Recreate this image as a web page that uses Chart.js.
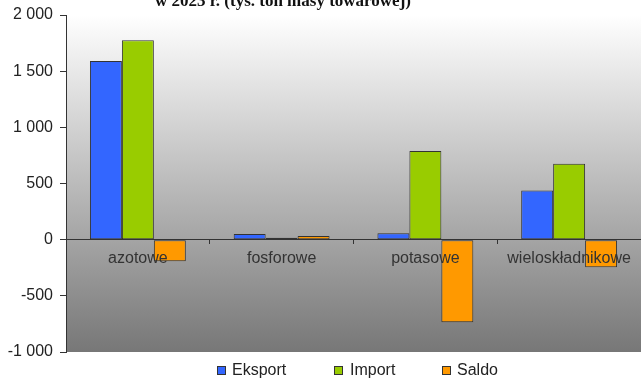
<!DOCTYPE html>
<html>
<head>
<meta charset="utf-8">
<script src="https://cdn.jsdelivr.net/npm/chart.js@4"></script>
<style>
  html, body { margin: 0; padding: 0; background: #fff; }
  #wrap { position: relative; width: 641px; height: 378px; overflow: hidden; }
  canvas { position: absolute; left: 0; top: 0; }
  .lg { position: absolute; font: 16px/16px "Liberation Sans", Arial, sans-serif; color: #222; white-space: nowrap; }
  .bx { position: absolute; width: 7px; height: 7px; border: 1px solid #333; }
</style>
</head>
<body>
<div id="wrap">
  <canvas id="c" width="641" height="378"></canvas>
</div>
<script>
const title = 'w 2023 r. (tys. ton masy towarowej)';
const categories = ['azotowe', 'fosforowe', 'potasowe', 'wieloskładnikowe'];
const seriesNames = ['Eksport', 'Import', 'Saldo'];
const eksport = [1590, 50, 58, 437];
const importValues = [1775, 18, 790, 675];
const saldo = [-193, 32, -735, -245];
const yTicks = [-1000, -500, 0, 500, 1000, 1500, 2000];

const colors = ['#3366FF', '#99CC00', '#FF9900'];
const seriesValues = [eksport, importValues, saldo];

// HTML legend
const wrap = document.getElementById('wrap');
const legendPos = [[217, 232], [334, 350], [442, 457]];
seriesNames.forEach((name, i) => {
  const b = document.createElement('div');
  b.className = 'bx';
  b.style.left = legendPos[i][0] + 'px';
  b.style.top = '366px';
  b.style.background = colors[i];
  wrap.appendChild(b);
  const t = document.createElement('div');
  t.className = 'lg';
  t.style.left = legendPos[i][1] + 'px';
  t.style.top = '362px';
  t.textContent = name;
  wrap.appendChild(t);
});

const bgPlugin = {
  id: 'bg',
  beforeDraw(chart) {
    const { ctx, chartArea: a } = chart;
    const g = ctx.createLinearGradient(0, a.top, 0, a.bottom);
    g.addColorStop(0, '#ffffff');
    g.addColorStop(1, '#777777');
    ctx.save();
    ctx.fillStyle = g;
    ctx.fillRect(a.left, a.top, a.right - a.left, a.bottom - a.top);
    ctx.restore();
  },
  afterDraw(chart) {
    const ctx = chart.ctx;
    ctx.save();
    ctx.font = 'bold 17px "Liberation Serif", "Times New Roman", serif';
    ctx.fillStyle = '#111';
    ctx.textAlign = 'center';
    ctx.textBaseline = 'alphabetic';
    ctx.fillText(title, 283, 5.5);
    ctx.restore();
  }
};

const fmt = v => {
  const s = Math.abs(v).toString().replace(/\B(?=(\d{3})+(?!\d))/g, ' ');
  return (v < 0 ? '-' : '') + s;
};

new Chart(document.getElementById('c'), {
  type: 'bar',
  data: {
    labels: categories,
    datasets: seriesNames.map((n, i) => ({
      label: n,
      data: seriesValues[i],
      backgroundColor: colors[i],
      borderColor: '#333333',
      borderWidth: 1,
      borderSkipped: false,
      barPercentage: 1,
      categoryPercentage: 0.667
    }))
  },
  options: {
    responsive: false,
    animation: false,
    devicePixelRatio: 1,
    layout: { padding: { top: 15, bottom: 26, left: 0, right: 0 } },
    plugins: {
      legend: { display: false },
      title: { display: false },
      tooltip: { enabled: false }
    },
    scales: {
      x: {
        position: { y: 0 },
        offset: true,
        grid: { offset: true, drawOnChartArea: false, tickLength: 4, color: '#333', z: 1 },
        border: { color: '#333', width: 1, z: 1 },
        ticks: { z: 1, color: '#333', padding: 5, font: { family: '"Liberation Sans", Arial, sans-serif', size: 16 } }
      },
      y: {
        min: -1000,
        max: 2000,
        afterBuildTicks(scale) { scale.ticks = yTicks.map(v => ({ value: v })); },
        afterFit(scale) { scale.width = 66; scale.paddingTop = 0; scale.paddingBottom = 0; },
        grid: { drawOnChartArea: false, tickLength: 6, color: '#333' },
        border: { color: '#333', width: 1 },
        ticks: {
          color: '#222',
          padding: 7,
          font: { family: '"Liberation Sans", Arial, sans-serif', size: 16 },
          callback: v => fmt(v)
        }
      }
    }
  },
  plugins: [bgPlugin]
});
</script>
</body>
</html>
